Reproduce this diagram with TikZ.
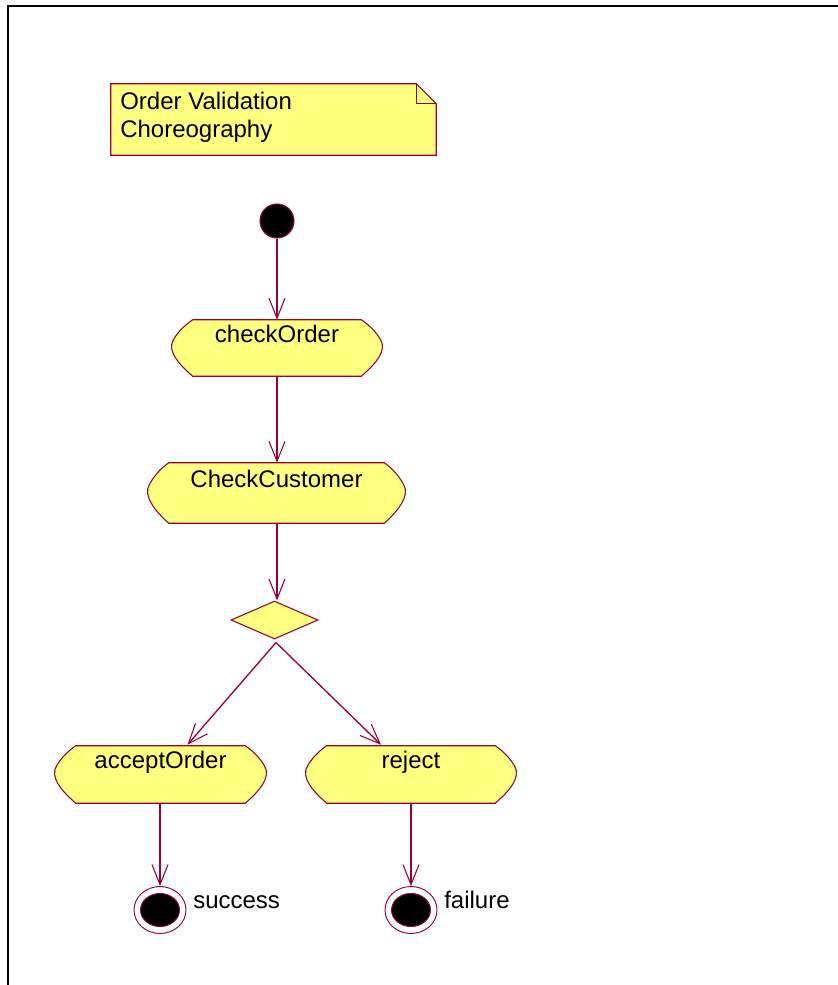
\documentclass[tikz,border=0pt]{standalone}
\usepackage{fontspec}
\setmainfont{Liberation Sans}
\usetikzlibrary{arrows.meta,shapes.geometric,calc}
\definecolor{umlline}{HTML}{990033}
\definecolor{umlfill}{HTML}{FFFF80}
\tikzset{
  px/.style={x=0.75pt,y=-0.75pt},
  actbox/.style={draw=none,inner sep=0pt,text height=14pt,text depth=23pt,
    font=\fontsize{18}{21}\selectfont},
  actline/.style={draw=umlline,fill=umlfill,line width=0.8pt},
  flow/.style={draw=umlline,line width=1pt,-{Straight Barb[length=15pt,width=12pt,line width=0.8pt]}},
  startnode/.style={circle,fill=black,draw=umlline,line width=0.8pt,minimum size=25.5pt,inner sep=0pt},
  decision/.style={diamond,draw=umlline,fill=umlfill,line width=0.8pt,minimum width=65.25pt,minimum height=28.5pt,inner sep=0pt},
  endnode/.style={ellipse,draw=umlline,fill=white,line width=0.7pt,minimum width=39pt,minimum height=35.25pt,inner sep=0pt,
    path picture={\filldraw[fill=black,draw=umlline,line width=0.7pt] (path picture bounding box.center) ellipse (14.6pt and 12.4pt);}},
  lbl/.style={font=\fontsize{18}{21}\selectfont,inner sep=0pt},
  border/.style={draw=black,line width=1.5pt},
}
\newcommand{\actoutline}[1]{%
  \path[actline]
    ($(#1.north west)+(21,0)$) -- ($(#1.north east)+(-21,0)$)
    .. controls ($(#1.north east)+(-12,6)$) and ($(#1.east)+(-2,-12)$) .. ($(#1.east)+(0,-4)$)
    .. controls ($(#1.east)+(2,8)$) and ($(#1.south east)+(-12,-8)$) .. ($(#1.south east)+(-21,0)$)
    -- ($(#1.south west)+(21,0)$)
    .. controls ($(#1.south west)+(12,-8)$) and ($(#1.west)+(-2,8)$) .. ($(#1.west)+(0,-4)$)
    .. controls ($(#1.west)+(2,-12)$) and ($(#1.north west)+(12,6)$) .. cycle;}
\begin{document}
\begin{tikzpicture}[px]
\useasboundingbox (0,0) rectangle (838,985);
% frame
\coordinate (fa) at (8,985);
\coordinate (fb) at (8,6);
\coordinate (fc) at (838,6);
\draw[border] (fa) -- (fb) -- (fc);
% note
\node[draw=none,minimum width=243.75pt,minimum height=53.25pt,inner sep=0pt] (note) at (273.5,119.5) {};
\path[actline] (note.north west) -- ($(note.north east)+(-20,0)$) -- ($(note.north east)+(0,20)$) -- (note.south east) -- (note.south west) -- cycle;
\draw[draw=umlline,line width=0.8pt] ($(note.north east)+(-20,0)$) -- ($(note.north east)+(-20,20)$) -- ($(note.north east)+(0,20)$);
\node[lbl,anchor=north west,align=left] (notetxt) at (120,91.5) {Order Validation\\Choreography};
% nodes
\node[startnode] (init) at (277,221) {};
\node[actbox,minimum width=157.5pt,minimum height=42pt] (co) at (277,348) {};
\actoutline{co}
\node[actbox,minimum width=157.5pt,minimum height=42pt] at (277,348) {checkOrder};
\node[actbox,minimum width=192.75pt,minimum height=45pt] (cc) at (276.5,493) {};
\actoutline{cc}
\node[actbox,minimum width=192.75pt,minimum height=45pt] at (276.5,493) {CheckCustomer};
\node[decision] (dec) at (274.5,620) {};
\node[actbox,minimum width=158.25pt,minimum height=42.75pt] (ao) at (160.5,774.5) {};
\actoutline{ao}
\node[actbox,minimum width=158.25pt,minimum height=42.75pt] at (160.5,774.5) {acceptOrder};
\node[actbox,minimum width=157.5pt,minimum height=42.75pt] (rj) at (411,774.5) {};
\actoutline{rj}
\node[actbox,minimum width=157.5pt,minimum height=42.75pt] at (411,774.5) {reject};
\node[endnode] (succ) at (160,910) {};
\node[endnode] (fail) at (411,910) {};
\node[lbl,anchor=base west] (succlbl) at (193,908) {success};
\node[lbl,anchor=base west] (faillbl) at (444,908) {failure};
% flows
\draw[flow] (init) -- (co.north);
\draw[flow] (co.south) -- (cc.north -| co.south);
\draw[flow] (cc.south -| co.south) -- (dec.north -| co.south);
\draw[flow] ($(dec.south)+(1.5,3)$) -- ($(ao.north)+(27,-1)$);
\draw[flow] ($(dec.south)+(1.5,3)$) -- ($(rj.north)+(-30,-1)$);
\draw[flow] (ao.south -| succ) -- (succ.north);
\draw[flow] (rj.south -| fail) -- (fail.north);
\end{tikzpicture}
\end{document}
